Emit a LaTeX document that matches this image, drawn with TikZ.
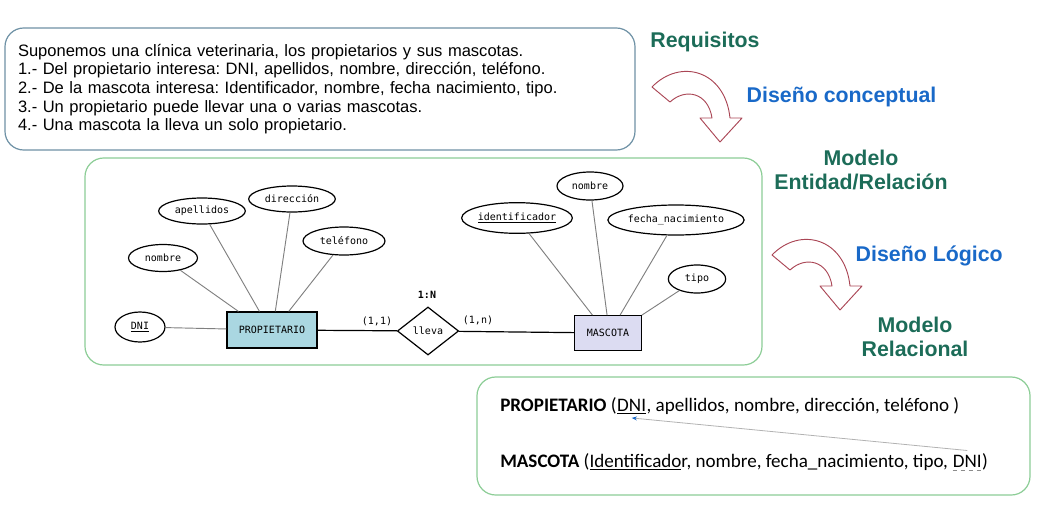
\documentclass[tikz,border=0pt]{standalone}
\usepackage{fontspec}
\setmainfont{Liberation Sans}
\setmonofont{DejaVu Sans Mono}
\newfontfamily\carlito{Carlito}
\usetikzlibrary{shapes.geometric,arrows.meta}
\definecolor{titgreen}{RGB}{28,108,88}
\definecolor{titblue}{RGB}{25,105,200}
\definecolor{arrowred}{RGB}{170,70,85}
\definecolor{reqedge}{RGB}{110,145,165}
\definecolor{boxgreen}{RGB}{140,205,150}
\definecolor{propfill}{RGB}{170,215,225}
\definecolor{mascfill}{RGB}{220,220,242}
\frenchspacing
% clave primaria: subrayado grueso
\newcommand{\pkey}[1]{\setbox0\hbox{#1}\rlap{\rule[-2pt]{\wd0}{0.8pt}}#1}
\begin{document}
\begin{tikzpicture}[x=0.75pt,y=-0.75pt,
  roundbox/.style={draw,line width=0.9pt,rounded corners=14pt,inner sep=0pt},
  attr/.style={ellipse,draw,line width=0.9pt,inner sep=0pt,font=\ttfamily\fontsize{7.5}{9}\selectfont},
  entity/.style={rectangle,draw,line width=0.9pt,inner sep=0pt,font=\ttfamily\fontsize{7.5}{9}\selectfont},
  attrline/.style={draw=black!50,line width=0.7pt},
  title/.style={font=\bfseries\fontsize{16}{18}\selectfont,align=center},
  reltext/.style={font=\carlito\fontsize{14.3}{16}\selectfont,inner sep=0pt,anchor=base west},
  bigarrow/.style={draw=arrowred,line width=0.7pt,fill=white,line join=round}]
\useasboundingbox (0,0) rectangle (1059,507);
% enunciado
\node[roundbox,draw=reqedge,minimum width=472.5pt,minimum height=91.5pt,text width=453pt,align=left,
  font=\fontsize{12.4}{14}\selectfont] (req) at (320,89)
  {Suponemos una clínica veterinaria, los propietarios y sus mascotas.\\
   1.- Del propietario interesa: DNI, apellidos, nombre, dirección, teléfono.\\
   2.- De la mascota interesa: Identificador, nombre, fecha nacimiento, tipo.\\
   3.- Un propietario puede llevar una o varias mascotas.\\
   4.- Una mascota la lleva un solo propietario.};
% fases del diseño
\node[title,text=titgreen] (requisitos) at (705,42) {Requisitos};
\node[title,text=titblue,anchor=west] (conceptual) at (742,97) {Diseño conceptual};
\node[title,text=titgreen] (modeloer) at (861,170) {Modelo\\Entidad/Relación};
\node[title,text=titblue,anchor=west] (logico) at (851,256) {Diseño Lógico};
\node[title,text=titgreen] (modelorel) at (915,337) {Modelo\\Relacional};
% flechas curvas
\foreach \dx/\dy in {0/0,120/168}
  \draw[bigarrow,shift={(\dx,\dy)}] (652,87) .. controls (680,58) and (725,70) .. (730,118)
    -- (742,118) -- (720,142) -- (700,118) -- (712,118)
    .. controls (708,92) and (685,88) .. (670,102) -- cycle;
% modelo E/R
\node[roundbox,draw=boxgreen,minimum width=507.75pt,minimum height=155.25pt] (erbox) at (423.5,261.5) {};
\node[entity,fill=propfill,minimum width=67.5pt,minimum height=27pt] (prop) at (272,330) {PROPIETARIO};
\node[entity,fill=mascfill,minimum width=50pt,minimum height=26pt] (masc) at (608,333) {MASCOTA};
\node[diamond,draw,line width=0.9pt,inner sep=0pt,aspect=1.27,minimum width=46pt,minimum height=36pt,
  font=\ttfamily\fontsize{7.5}{9}\selectfont] (lleva) at (428,331) {lleva};
\node[font=\ttfamily\bfseries\fontsize{7.5}{9}\selectfont] (card) at (427,295) {1:N};
\node[font=\ttfamily\fontsize{7.5}{9}\selectfont] (uno) at (377,321) {(1,1)};
\node[font=\ttfamily\fontsize{7.5}{9}\selectfont] (ene) at (478,320) {(1,n)};
% atributos de PROPIETARIO
\node[attr,minimum width=37.5pt,minimum height=22.5pt] (dni) at (140,327) {\pkey{DNI}};
\node[attr,minimum width=51.75pt,minimum height=20.25pt] (nombre) at (163,258) {nombre};
\node[attr,minimum width=65pt,minimum height=19.5pt] (apellidos) at (202,211) {apellidos};
\node[attr,minimum width=65pt,minimum height=19.5pt] (direccion) at (292,199) {dirección};
\node[attr,minimum width=61.5pt,minimum height=21pt] (telefono) at (344,241) {teléfono};
% atributos de MASCOTA
\node[attr,minimum width=82pt,minimum height=23pt] (ident) at (517,218) {\pkey{identificador}};
\node[attr,minimum width=49.5pt,minimum height=21pt] (nombremasc) at (590,186) {nombre};
\node[attr,minimum width=96pt,minimum height=22.5pt] (fecha) at (676,220) {fecha\_nacimiento};
\node[attr,minimum width=43pt,minimum height=21pt] (tipo) at (697,279) {tipo};
% lineas
\draw[attrline] (dni) -- (prop);
\foreach \a/\ang in {nombre/151,apellidos/124,direccion/80,telefono/48}
  \draw[attrline] (\a) -- (prop.\ang);
\foreach \a/\ang in {ident/131,nombremasc/93,fecha/56,tipo/north east}
  \draw[attrline] (\a) -- (masc.\ang);
\draw[line width=0.9pt] (prop) -- (lleva);
\draw[line width=0.9pt] (lleva) -- (masc);
% modelo relacional
\node[roundbox,draw=boxgreen,minimum width=414.75pt,minimum height=88.5pt] (relbox) at (753.5,436) {};
\node[reltext] (relprop) at (500,411) {\textbf{PROPIETARIO} (};
\node[reltext] (dniprop) at (relprop.base east) {\underline{DNI}};
\node[reltext] (relpropend) at (dniprop.base east) {, apellidos, nombre, dirección, teléfono )};
\node[reltext] (relmasc) at (500,467) {\textbf{MASCOTA} (\underline{Identificado}r, nombre, fecha\_nacimiento, tipo,\ \mbox{}};
\node[reltext] (dnimasc) at (relmasc.base east) {DNI};
\node[reltext] (relmascend) at (dnimasc.base east) {)};
\draw[black!45,dashed,line width=0.5pt] ([yshift=-2.5pt]dnimasc.south west) -- ([yshift=-2.5pt]dnimasc.south east);
\draw[black!30,line width=0.6pt,-{Stealth[length=4pt,width=3pt,color=titblue]}]
  ([yshift=3pt]dnimasc.north) -- ([yshift=-3pt]dniprop.south);
\end{tikzpicture}
\end{document}
